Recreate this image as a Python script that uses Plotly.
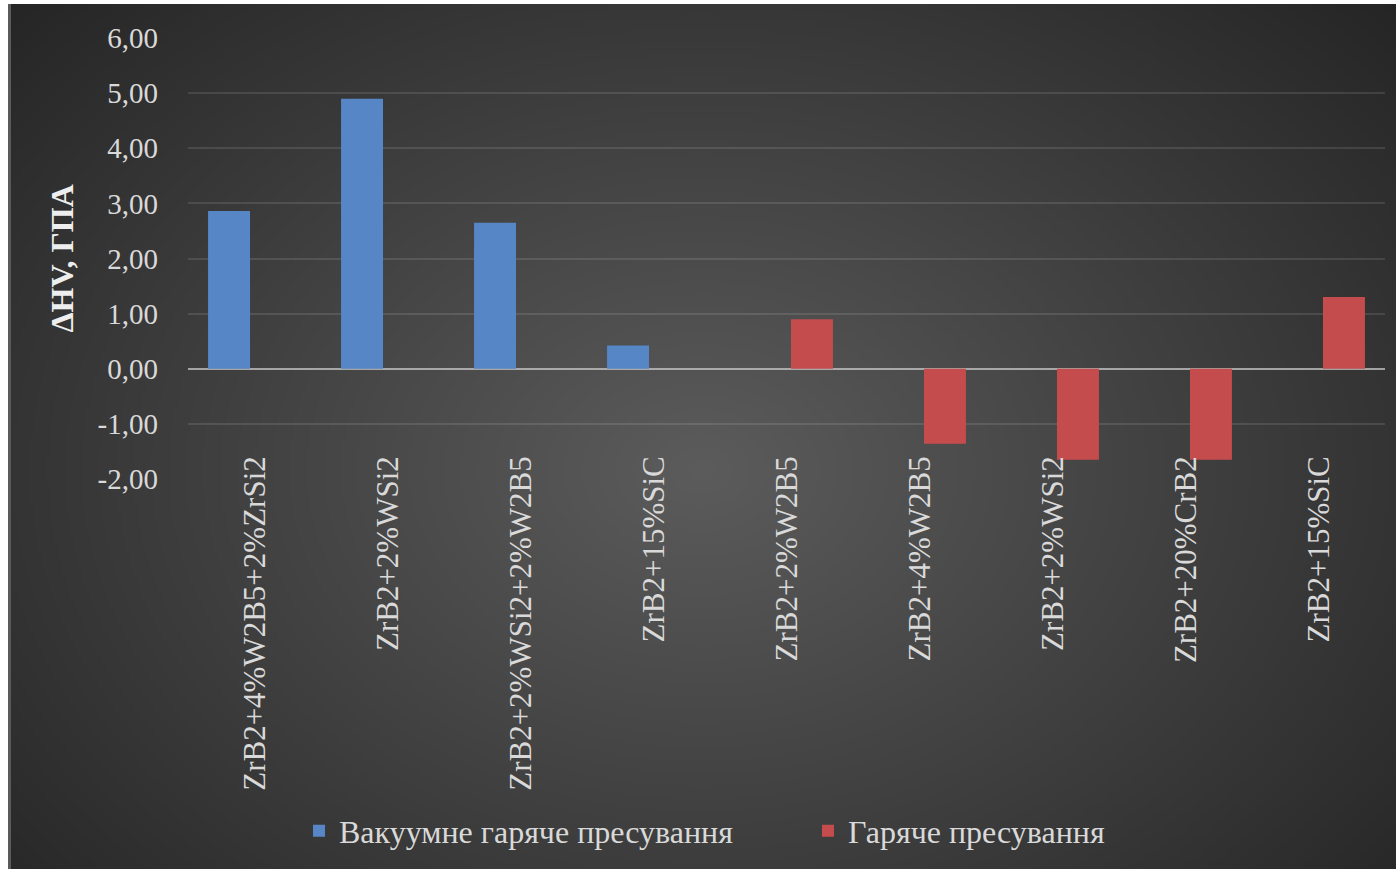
import zlib, struct, base64
import numpy as np
import plotly.graph_objects as go

# ---------------- data ----------------
categories = ["ZrB2+4%W2B5+2%ZrSi2", "ZrB2+2%WSi2", "ZrB2+2%WSi2+2%W2B5", "ZrB2+15%SiC",
              "ZrB2+2%W2B5", "ZrB2+4%W2B5", "ZrB2+2%WSi2", "ZrB2+20%CrB2", "ZrB2+15%SiC"]
vacuum_hp = [2.86, 4.90, 2.65, 0.42, None, None, None, None, None]
hot_press = [None, None, None, None, 0.90, -1.36, -1.65, -1.65, 1.30]
series_names = ["Вакуумне гаряче пресування", "Гаряче пресування"]
y_tickvals = [-2, -1, 0, 1, 2, 3, 4, 5, 6]
y_ticktext = ["-2,00", "-1,00", "0,00", "1,00", "2,00", "3,00", "4,00", "5,00", "6,00"]
y_title = "ΔHV, ГПА"

# ---------------- layout geometry ----------------
W, H = 1396, 869
L, R, T, B = 188, 11, 38, 390
pw, ph = W - L - R, H - T - B

def px_x(px):
    return (px - L) / pw

def px_y(py):
    return (H - B - py) / ph

# ---------------- background gradient ----------------
def make_png(arr):
    h, w = arr.shape
    raw = b"".join(b"\x00" + arr[i].tobytes() for i in range(h))
    def chunk(t, d):
        c = struct.pack(">I", len(d)) + t + d
        return c + struct.pack(">I", zlib.crc32(t + d) & 0xffffffff)
    png = (b"\x89PNG\r\n\x1a\n"
           + chunk(b"IHDR", struct.pack(">IIBBBBB", w, h, 8, 0, 0, 0, 0))
           + chunk(b"IDAT", zlib.compress(raw, 9))
           + chunk(b"IEND", b""))
    return "data:image/png;base64," + base64.b64encode(png).decode()

bx0, by0 = 8, 4
bw, bh = W - bx0 + 6, H - by0 + 8
s = 4
gx = np.arange(0, bw, s) + bx0
gy = np.arange(0, bh, s) + by0
XX, YY = np.meshgrid(gx, gy)
d = np.sqrt(((XX - 700) / 950.0) ** 2 + ((YY - 470) / 700.0) ** 2)
d = np.clip(d, 0, 1)
img = (37 + 55 * (1 - d)).astype(np.uint8)
bg_src = make_png(img)

# ---------------- figure ----------------
fig = go.Figure()
xs = list(range(len(categories)))
fig.add_trace(go.Bar(x=xs, y=vacuum_hp, name=series_names[0],
                     marker=dict(color="#5686c6", line=dict(width=0))))
fig.add_trace(go.Bar(x=xs, y=hot_press, name=series_names[1],
                     marker=dict(color="#c44c4c", line=dict(width=0))))

serif = "Liberation Serif, Times New Roman, serif"
label_font = dict(family=serif, color="#d9d9d9")

fig.update_layout(
    width=W, height=H,
    margin=dict(l=L, r=R, t=T, b=B, autoexpand=False),
    paper_bgcolor="#2a2a2a",
    plot_bgcolor="rgba(0,0,0,0)",
    barmode="group", bargap=0.234, bargroupgap=0.176,
    showlegend=True,
    legend=dict(orientation="h", x=px_x(299), xanchor="left",
                y=px_y(831), yanchor="middle",
                font=dict(size=32, **label_font),
                bgcolor="rgba(0,0,0,0)", entrywidth=464, entrywidthmode="pixels"),
    images=[dict(source=bg_src, xref="paper", yref="paper",
                 x=px_x(bx0), y=px_y(by0), sizex=bw / pw, sizey=bh / ph,
                 xanchor="left", yanchor="top", sizing="stretch", layer="below")],
    xaxis=dict(range=[-0.5, len(categories) - 0.5], tickvals=xs, ticktext=categories,
               tickangle=-90, showgrid=False, zeroline=False, showline=False,
               ticks="", ticklabelstandoff=-30,
               tickfont=dict(size=31, **label_font), automargin=False),
    yaxis=dict(range=[-2, 6], tickvals=y_tickvals, ticktext=y_ticktext,
               showgrid=True, gridcolor="rgba(255,255,255,0.11)", gridwidth=1.5,
               zeroline=True, zerolinecolor="rgba(200,200,200,0.75)", zerolinewidth=2,
               showline=False, ticks="", ticklabelstandoff=29,
               tickfont=dict(size=29, **label_font), automargin=False),
    annotations=[dict(text="<b>" + y_title + "</b>", xref="paper", yref="paper",
                      x=px_x(61), y=0.5, textangle=-90, showarrow=False,
                      xanchor="center", yanchor="middle",
                      font=dict(size=32, family=serif, color="#eeeeee"))],
    shapes=[
        dict(type="rect", xref="paper", yref="paper",
             x0=px_x(-2), x1=px_x(W + 2), y0=px_y(-2), y1=px_y(by0),
             fillcolor="white", line=dict(width=0), layer="below"),
        dict(type="rect", xref="paper", yref="paper",
             x0=px_x(-2), x1=px_x(bx0), y0=px_y(-2), y1=px_y(H + 2),
             fillcolor="white", line=dict(width=0), layer="below"),
        dict(type="line", xref="paper", yref="paper",
             x0=px_x(9.5), x1=px_x(9.5), y0=px_y(by0), y1=px_y(H + 2),
             line=dict(color="#5a5a5a", width=3), layer="below"),
    ],
)

fig.write_html("out.html", config={"displayModeBar": False},
               post_script="document.body.style.margin='0';"
                           "document.body.style.background='#2a2a2a';"
                           "document.documentElement.style.background='#2a2a2a';")
